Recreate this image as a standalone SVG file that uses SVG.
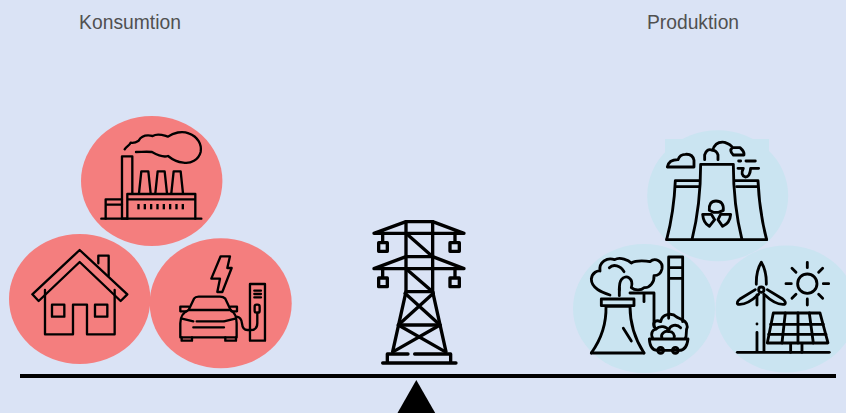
<svg xmlns="http://www.w3.org/2000/svg" width="846" height="413" viewBox="0 0 846 413">
<style>
.lbl{font-family:"Liberation Sans",Arial,sans-serif;font-size:19.3px;fill:#505050;text-anchor:middle}
.red{fill:#F47E7E}
.blue{fill:#CAE4F1}
.ic{fill:none;stroke:#000;stroke-width:7;stroke-linejoin:round;stroke-linecap:round}
.ic2{fill:none;stroke:#000;stroke-width:8.5;stroke-linejoin:round;stroke-linecap:round}
.py{fill:none;stroke:#000;stroke-width:10;stroke-linejoin:round;stroke-linecap:round}
.dot{fill:#000;stroke:none}
</style>
<rect width="846" height="413" fill="#DAE3F5"/>
<text class="lbl" x="130" y="29">Konsumtion</text>
<text class="lbl" x="693" y="29">Produktion</text>
<g id="connectors">
<rect x="20" y="374" width="816" height="4" fill="#000"/>
</g>
<g id="fulcrum"><polygon points="416.3,380 435.2,413 397.5,413" fill="#000"/></g>
<g id="factory">
<ellipse class="red" cx="151.7" cy="181" rx="70.7" ry="65"/>
<g transform="translate(0,110) scale(0.3333)" class="ic">
<path d="M304 326H604"/>
<path d="M366 326V139H397V250M366 326H382"/>
<path d="M317 326V268H366M317 268V284H366"/>
<path d="M382 326V252H586V268H382M586 268V326"/>
<path d="M417 250L424 184H445L452 250M466 250L473 184H494L501 250M514 250L521 184H542L549 250"/>
<path d="M374 118C380 108 388 108 392 98C402 100 410 96 416 92C424 78 440 74 458 78C474 68 490 76 504 80C520 68 546 62 566 70C594 80 606 104 602 126C596 150 572 162 550 158C530 156 514 146 504 138C488 144 470 134 456 126C442 124 424 126 408 126"/>
</g>
<g transform="translate(0,110) scale(0.3333)" class="dot">
<rect x="412" y="282" width="7" height="16"/><rect x="431" y="282" width="7" height="16"/><rect x="450" y="282" width="7" height="16"/><rect x="469" y="282" width="7" height="16"/><rect x="488" y="282" width="7" height="16"/><rect x="507" y="282" width="7" height="16"/><rect x="526" y="282" width="7" height="16"/><rect x="545" y="282" width="7" height="16"/>
</g>
</g>
<g id="house">
<ellipse class="red" cx="79.7" cy="299" rx="70.7" ry="65"/>
<g transform="translate(0,110) scale(0.3333)" class="ic">
<path d="M97 553L239 420L382 553L362 573L239 456L116 573Z"/>
<path d="M135 540V673H219V584H261V673H344V540"/>
<rect x="156" y="584" width="37" height="36"/>
<rect x="285" y="584" width="37" height="36"/>
<path d="M295 460V437H326V497"/>
</g>
</g>
<g id="car-charger">
<ellipse class="red" cx="220.7" cy="303.3" rx="71" ry="65"/>
<g transform="translate(0,110) scale(0.3333)" class="ic">
<path d="M662 439H690L682 474H695L667 546H652L660 506H634Z"/>
<path d="M566 600L582 566Q586 560 596 560H660Q670 560 676 566L692 600"/>
<path d="M566 590H541V604H560M692 590H711V604H694"/>
<path d="M566 600H692Q710 610 710 640V682H541V640Q541 610 566 600Z"/>
<path d="M546 626L580 634M706 626L672 634M580 652H672M590 634H670"/>
<path d="M545 682V692H576V682M676 682V692H708V682"/>
<path d="M750 692V522H795V692H750"/>
<path d="M763 542H783M763 552H783M763 562H783"/>
<rect x="764" y="584" width="15" height="24" rx="6"/>
<path d="M772 608V640Q772 660 752 660H742Q728 660 726 640Q724 622 710 620"/>
</g>
</g>
<g id="nuclear">
<ellipse class="blue" cx="717.7" cy="195.7" rx="70.5" ry="65.5"/>
<polygon class="blue" points="665,139 769,139 769,165 665,165"/>
<g transform="translate(570,125) scale(0.3333)" class="ic2">
<path d="M290 344H590"/>
<path d="M290 344Q312 260 316 167H386M316 185H386"/>
<path d="M590 344Q568 260 564 167H496M564 185H500"/>
<path d="M366 344Q392 240 392 118H490Q490 240 516 344"/>
<path d="M292 126H372V106Q368 86 346 88Q330 88 324 104Q296 104 292 126Z"/>
<path d="M404 104V90Q410 68 428 76Q436 48 464 52Q482 58 488 68H510Q524 80 522 90H490M444 104V90Q440 76 428 76M488 68Q476 76 490 90"/>
<path d="M504 130H520Q510 150 526 156Q540 156 542 130H566M506 108H512M528 108H556"/>
<path d="M398 268H424L434 284L418 304Q400 294 398 268Z"/>
<path d="M482 268H452L444 284L458 304Q480 294 482 268Z"/>
<path d="M418 256Q416 228 438 228Q462 228 460 256L446 262H430Z"/>
</g>
</g>
<g id="coal-plant">
<ellipse class="blue" cx="644" cy="308.5" rx="71" ry="64.5"/>
<g transform="translate(570,125) scale(0.3333)" class="ic2">
<path d="M64 684H222"/>
<path d="M64 684Q110 620 108 544H180Q180 620 222 684"/>
<path d="M94 542V522H192V542H94"/>
<path d="M160 610L184 648"/>
<path d="M148 512V488M180 504H252V530M222 504V530M252 530V605"/>
<path d="M120 510C96 502 64 490 64 462C66 442 84 436 90 438C86 410 112 396 134 404C150 394 176 406 184 414C200 404 232 408 240 410C256 396 280 410 276 432C272 448 264 452 252 452C254 470 240 490 222 488C214 496 196 498 184 488C192 460 168 446 154 464C148 470 148 490 148 496"/>
<path d="M118 428C130 416 152 422 162 440"/>
<path d="M296 580V396H338V590M296 428H338M296 460H338"/>
<path d="M238 642H354Q350 676 328 676H262Q240 676 238 642Z"/>
<path d="M248 640C240 622 250 614 258 612C244 596 254 582 272 590C276 566 306 562 320 576C332 584 352 586 352 606C346 616 352 630 346 640"/>
<path d="M258 612C270 600 290 604 296 616M296 616C300 600 320 596 332 608M276 640C270 626 286 616 296 620C308 618 316 630 312 640"/>
<circle cx="272" cy="676" r="9"/>
<circle cx="316" cy="676" r="9"/>
</g>
</g>
<g id="renewables">
<ellipse class="blue" cx="786" cy="309" rx="70.5" ry="63.5"/>
<g transform="translate(570,125) scale(0.3333)" class="ic2">
<path d="M502 682H778"/>
<path d="M561 680V622M561 597V597M582 680V510M561 510V540"/>
<path d="M559 478Q558 438 574 412Q590 438 589 478"/>
<path d="M556 494L510 522Q498 532 504 538Q530 542 566 508"/>
<path d="M592 494L638 522Q650 532 644 538Q618 542 582 508"/>
<circle cx="574" cy="494" r="8"/>
<path d="M592 654L610 564H750L774 654Z"/>
<path d="M602 598H760M596 628H768M646 564L636 654M684 564V654M718 564L730 654"/>
<path d="M662 656V682M696 656V682"/>
<circle cx="712" cy="476" r="29"/>
<path d="M712 412V428M712 522V540M648 476H664M760 476H776M666 430L678 442M758 430L746 442M666 520L678 508M758 520L746 508"/>
</g>
</g>
<g id="pylon">
<g transform="translate(350,210) scale(0.3333)" class="py">
<path d="M168 35H248L342 70H72Z"/>
<path d="M168 140H248L342 176H72Z"/>
<path d="M168 35V245L128 425M248 35V245L288 425"/>
<path d="M168 70L248 140M168 176L248 245"/>
<path d="M168 245H248M145 345H270"/>
<path d="M165 250L270 345M250 250L145 345M145 345L285 425M270 345L130 425"/>
<path d="M98 72V96M315 72V96M98 178V200M315 178V200"/>
<rect x="86" y="98" width="26" height="26"/>
<rect x="300" y="98" width="28" height="26"/>
<rect x="86" y="204" width="26" height="26"/>
<rect x="300" y="204" width="28" height="26"/>
<path d="M112 458V432H174M194 432H302V458M98 459H318"/>
</g>
</g>
</svg>
